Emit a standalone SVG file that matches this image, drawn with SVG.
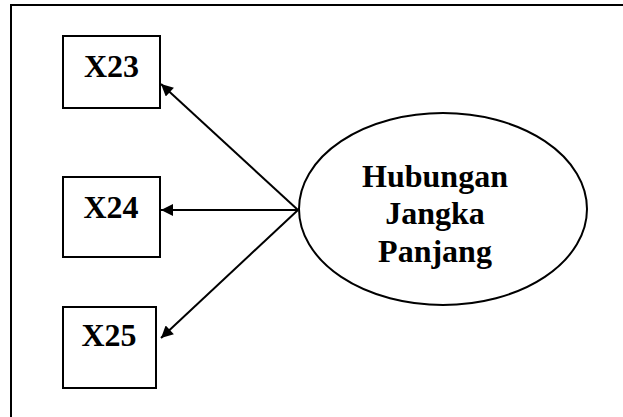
<svg xmlns="http://www.w3.org/2000/svg" width="623" height="417" viewBox="0 0 623 417">
  <style>
    .box { fill: #fff; stroke: #000; stroke-width: 2; }
    .lbl { font-family: "Liberation Serif", "Times New Roman", serif; font-weight: bold; font-size: 32px; fill: #000; text-anchor: middle; }
    .edge { stroke: #000; stroke-width: 2; fill: none; marker-end: url(#arrow); }
  </style>
  <defs>
    <marker id="arrow" viewBox="0 0 10 10" refX="10" refY="5" markerWidth="6.5" markerHeight="6" markerUnits="strokeWidth" orient="auto">
      <path d="M0,0 L10,5 L0,10 Z" fill="#000"/>
    </marker>
  </defs>

  <rect width="623" height="417" fill="#fff"/>

  <!-- frame: only top and left edges visible -->
  <path d="M11,417 V5 H623" fill="none" stroke="#000" stroke-width="2"/>

  <g id="connectors">
    <line class="edge" x1="298" y1="210" x2="161" y2="84"/>
    <line class="edge" x1="298" y1="210" x2="161" y2="210"/>
    <line class="edge" x1="298" y1="210" x2="161" y2="338"/>
  </g>

  <g id="x23">
    <rect class="box" x="63" y="36" width="97" height="72"/>
    <text class="lbl" x="111.5" y="77">X23</text>
  </g>

  <g id="x24">
    <rect class="box" x="63" y="177" width="97" height="80"/>
    <text class="lbl" x="111" y="218">X24</text>
  </g>

  <g id="x25">
    <rect class="box" x="63" y="307" width="93" height="81"/>
    <text class="lbl" x="109" y="346">X25</text>
  </g>

  <g id="hubungan-jangka-panjang">
    <ellipse cx="443" cy="209" rx="144" ry="96" fill="#fff" stroke="#000" stroke-width="2"/>
    <text class="lbl" x="435" y="187">Hubungan</text>
    <text class="lbl" x="435" y="224">Jangka</text>
    <text class="lbl" x="435" y="262">Panjang</text>
  </g>
</svg>
